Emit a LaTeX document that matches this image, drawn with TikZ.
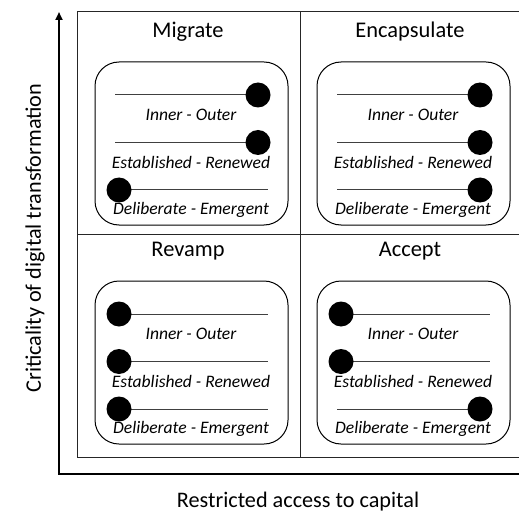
\documentclass[tikz,border=0pt]{standalone}
\usepackage{fontspec}
\setmainfont{Carlito}
\usetikzlibrary{arrows.meta,positioning}

\tikzset{
  cell/.style={draw=black!85, line width=1bp},
  optionbox/.style={draw, line width=1bp, rounded corners=24bp},
  quadtitle/.style={font=\fontsize{22.5}{25}\selectfont},
  axislabel/.style={font=\fontsize{22.3}{25}\selectfont},
  slider/.style={draw=black!75, line width=1bp},
  knob/.style={circle, fill=black, inner sep=0pt, minimum size=25bp},
  pole/.style={font=\fontsize{17.6}{20}\selectfont\itshape},
}

\begin{document}
\begin{tikzpicture}[x=1bp, y=-1bp]
    \useasboundingbox (0,0) rectangle (519,513);
    % Quadrant grid, open on the right
    \draw[cell] (519,12) -- (77,12) -- (77,457) -- (519,457);
    \draw[cell] (300,12) -- (300,457);
    \draw[cell] (77,234) -- (519,234);
    % Axes
    \coordinate (ytip) at (59,12);
    \coordinate (origin) at (59,474);
    \coordinate (xend) at (519,474);
    \draw[line width=2.5bp, {Triangle[length=8bp,width=7bp]}-] (ytip) -- (origin) -- (xend);
    \node[axislabel] (xlabel) at (298,502) {Restricted access to capital};
    \node[axislabel, rotate=90] (ylabel) at (35,238) {Criticality of digital transformation};
    % Quadrants: name / box corner / title / knob offsets of the three sliders
    \foreach \name/\qx/\qy/\title/\ka/\kb/\kc in {
        mig/95/62/Migrate/143/143/4,
        enc/317/62/Encapsulate/143/143/143,
        rev/95/281/Revamp/4/4/4,
        acc/317/281/Accept/4/4/143} {
      \draw[optionbox] (\qx,\qy) rectangle (\qx+193,\qy+163);
      \node[quadtitle] (\name-title) at (\qx+93,\qy-30) {\title};
      \foreach \i/\k/\poles in {1/\ka/Inner - Outer, 2/\kb/Established - Renewed, 3/\kc/Deliberate - Emergent} {
        \coordinate (\name-s\i-a) at (\qx+20,\qy-14.5+47.5*\i);
        \coordinate (\name-s\i-b) at (\qx+173,\qy-14.5+47.5*\i);
        \draw[slider] (\name-s\i-a) -- (\name-s\i-b);
        \node[pole] (\name-p\i) at (\qx+96,\qy+5.5+47.5*\i) {\poles};
        \node[knob] (\name-k\i) at (\qx+20+\k,\qy-14.5+47.5*\i) {};
      }
    }
\end{tikzpicture}
\end{document}
